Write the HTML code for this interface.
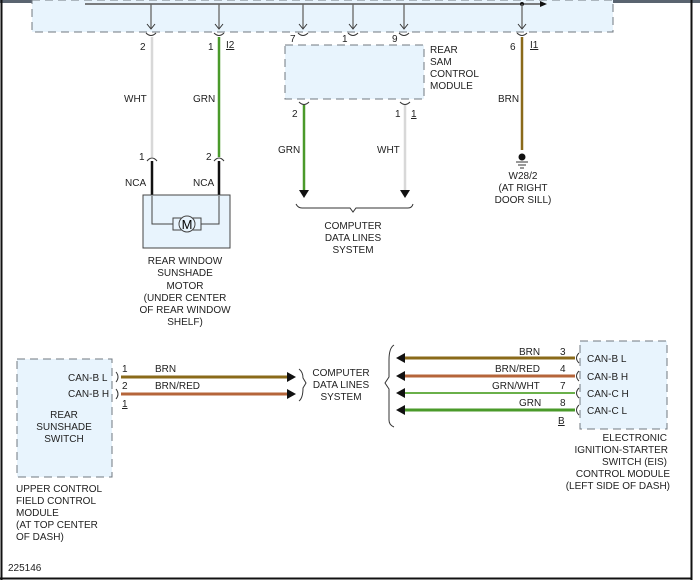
<!DOCTYPE html>
<html><head><style>
html,body{margin:0;padding:0;background:#fff;}
svg{display:block;font-family:"Liberation Sans",Arial,sans-serif;font-size:10px;}
</style></head><body>
<svg width="700" height="583" viewBox="0 0 700 583" xmlns="http://www.w3.org/2000/svg">
<rect x="0" y="0" width="700" height="583" fill="#fff"/>
<!-- frame -->
<rect x="0" y="0" width="700" height="3" fill="#5a6470"/>
<line x1="1.5" y1="0" x2="1.5" y2="580" stroke="#111" stroke-width="2"/>
<line x1="691.5" y1="0" x2="691.5" y2="580" stroke="#111" stroke-width="2"/>
<line x1="0" y1="578.5" x2="692" y2="578.5" stroke="#111" stroke-width="2"/>
<!-- top module -->
<rect x="32" y="0" width="581" height="32" fill="#e8f4fd" stroke="#707880" stroke-dasharray="8,5"/>
<line x1="85" y1="4" x2="545" y2="4" stroke="#555" stroke-width="1.5"/>
<polygon points="540,1 547,4 540,7" fill="#111"/>
<circle cx="522" cy="4" r="2" fill="#111"/>
<g stroke="#666" stroke-width="1.3" fill="none">
<line x1="151" y1="4" x2="151" y2="28"/><line x1="219" y1="4" x2="219" y2="28"/>
<line x1="303" y1="4" x2="303" y2="28"/><line x1="353" y1="4" x2="353" y2="28"/>
<line x1="404" y1="4" x2="404" y2="28"/><line x1="522" y1="4" x2="522" y2="28"/>
</g>
<g stroke="#333" stroke-width="1" fill="none">
<path d="M147,24 L151,29 L155,24"/><path d="M215,24 L219,29 L223,24"/><path d="M299,24 L303,29 L307,24"/>
<path d="M349,24 L353,29 L357,24"/><path d="M400,24 L404,29 L408,24"/><path d="M518,24 L522,29 L526,24"/>
<path d="M146,33 Q151,38 156,33"/><path d="M214,33 Q219,38 224,33"/><path d="M298,33 Q303,38 308,33"/>
<path d="M348,33 Q353,38 358,33"/><path d="M399,33 Q404,38 409,33"/><path d="M517,33 Q522,38 527,33"/>
</g>
<!-- left wires -->
<line x1="152" y1="37" x2="152" y2="157" stroke="#d8d8d8" stroke-width="2.5"/>
<line x1="219" y1="37" x2="219" y2="157" stroke="#4a9a2a" stroke-width="2.5"/>
<g stroke="#333" fill="none"><path d="M147,161 Q152,155 157,161"/><path d="M214,161 Q219,155 224,161"/></g>
<line x1="152" y1="161" x2="152" y2="196" stroke="#111" stroke-width="2.5"/>
<line x1="219" y1="161" x2="219" y2="196" stroke="#111" stroke-width="2.5"/>
<rect x="143" y="195" width="87" height="53" fill="#e8f4fd" stroke="#444"/>
<path d="M152,196 V224 H174 M197,224 H219 V196" stroke="#444" fill="none"/>
<rect x="173" y="218" width="28" height="12" fill="#e8f4fd" stroke="#444"/>
<circle cx="187" cy="224" r="8" fill="#e8f4fd" stroke="#444"/>
<text x="187" y="229" text-anchor="middle" font-size="13">M</text>
<!-- rear sam -->
<rect x="285" y="45" width="139" height="54" fill="#e8f4fd" stroke="#707880" stroke-dasharray="8,5"/>
<line x1="304" y1="105" x2="304" y2="190" stroke="#4a9a2a" stroke-width="2.5"/>
<line x1="405" y1="105" x2="405" y2="190" stroke="#d8d8d8" stroke-width="2.5"/>
<g stroke="#333" fill="none"><path d="M299,102 Q304,107 309,102"/><path d="M400,102 Q405,107 410,102"/></g>
<polygon points="299,190 309,190 304,198" fill="#111"/>
<polygon points="400,190 410,190 405,198" fill="#111"/>
<path d="M296,204 Q298,208 302,208 H350 L353,212 L356,208 H408 Q412,208 413,204" stroke="#333" fill="none"/>
<!-- brn ground -->
<line x1="522" y1="37" x2="522" y2="150" stroke="#8a6a1a" stroke-width="2.5"/>
<circle cx="522" cy="157" r="3.5" fill="#111"/>
<g stroke="#333"><line x1="516" y1="162" x2="528" y2="162"/><line x1="518" y1="165" x2="526" y2="165"/><line x1="520" y1="168" x2="524" y2="168"/></g>
<!-- labels top -->
<g fill="#222">
<text x="140" y="50">2</text><text x="208" y="50">1</text><text x="226" y="48" text-decoration="underline">I2</text>
<text x="290" y="42">7</text><text x="342" y="42">1</text><text x="392" y="42">9</text>
<text x="510" y="50">6</text><text x="530" y="48" text-decoration="underline">I1</text>
<text x="124" y="102">WHT</text><text x="193" y="102">GRN</text>
<text x="139" y="160">1</text><text x="206" y="160">2</text>
<text x="125" y="186">NCA</text><text x="193" y="186">NCA</text>
<text x="430" y="53">REAR</text><text x="430" y="65">SAM</text><text x="430" y="77">CONTROL</text><text x="430" y="89">MODULE</text>
<text x="292" y="117">2</text><text x="395" y="117">1</text><text x="411" y="117" text-decoration="underline">1</text>
<text x="278" y="153">GRN</text><text x="377" y="153">WHT</text>
<text x="498" y="102">BRN</text>
<g text-anchor="middle">
<text x="523" y="179">W28/2</text><text x="523" y="191">(AT RIGHT</text><text x="523" y="203">DOOR SILL)</text>
<text x="353" y="229">COMPUTER</text><text x="353" y="241">DATA LINES</text><text x="353" y="253">SYSTEM</text>
<text x="185" y="264">REAR WINDOW</text><text x="185" y="276">SUNSHADE</text><text x="185" y="289">MOTOR</text>
<text x="185" y="301">(UNDER CENTER</text><text x="185" y="313">OF REAR WINDOW</text><text x="185" y="325">SHELF)</text>
<text x="341" y="376">COMPUTER</text><text x="341" y="388">DATA LINES</text><text x="341" y="400">SYSTEM</text>
</g>
</g>
<!-- lower left -->
<rect x="17" y="359" width="95" height="118" fill="#e8f4fd" stroke="#707880" stroke-dasharray="8,5"/>
<line x1="121" y1="377" x2="288" y2="377" stroke="#8a6a1a" stroke-width="3"/>
<line x1="121" y1="394" x2="288" y2="394" stroke="#b5653a" stroke-width="3"/>
<polygon points="287,372 296,377 287,382" fill="#111"/>
<polygon points="287,389 296,394 287,399" fill="#111"/>
<g stroke="#333" fill="none">
<path d="M116,372 Q120,377 116,382"/><path d="M116,389 Q120,394 116,399"/>
<path d="M299,369 Q303,372 303,378 L306,383 L303,388 Q303,398 299,401"/>
<path d="M394,345 Q389,348 389,360 V377 L385,383 L389,389 V420 Q389,425 394,427"/>
</g>
<g fill="#222">
<text x="68" y="381">CAN-B L</text><text x="68" y="397">CAN-B H</text>
<text x="122" y="372">1</text><text x="122" y="389">2</text><text x="122" y="407" text-decoration="underline">1</text>
<text x="155" y="372">BRN</text><text x="155" y="389">BRN/RED</text>
<g text-anchor="middle"><text x="64" y="418">REAR</text><text x="64" y="430">SUNSHADE</text><text x="64" y="442">SWITCH</text></g>
<text x="16" y="492">UPPER CONTROL</text><text x="16" y="504">FIELD CONTROL</text><text x="16" y="516">MODULE</text><text x="16" y="528">(AT TOP CENTER</text><text x="16" y="540">OF DASH)</text>
<text x="8" y="571">225146</text>
</g>
<!-- lower right -->
<rect x="580" y="341" width="87" height="88" fill="#e8f4fd" stroke="#707880" stroke-dasharray="8,5"/>
<line x1="405" y1="358" x2="575" y2="358" stroke="#8a6a1a" stroke-width="3"/>
<line x1="405" y1="376" x2="575" y2="376" stroke="#b5653a" stroke-width="3"/>
<line x1="405" y1="393" x2="575" y2="393" stroke="#6ab04a" stroke-width="2"/>
<line x1="405" y1="410" x2="575" y2="410" stroke="#4a9a2a" stroke-width="3"/>
<g fill="#111">
<polygon points="405,353 396,358 405,363"/><polygon points="405,371 396,376 405,381"/>
<polygon points="405,388 396,393 405,398"/><polygon points="405,405 396,410 405,415"/>
</g>
<g stroke="#333" fill="none">
<path d="M579,353 Q574,358 579,363"/><path d="M579,371 Q574,376 579,381"/>
<path d="M579,388 Q574,393 579,398"/><path d="M579,405 Q574,410 579,415"/>
</g>
<g fill="#222">
<text x="519" y="355">BRN</text><text x="495" y="372">BRN/RED</text><text x="492" y="389">GRN/WHT</text><text x="519" y="406">GRN</text>
<text x="560" y="355">3</text><text x="560" y="372">4</text><text x="560" y="389">7</text><text x="560" y="406">8</text>
<text x="558" y="424" text-decoration="underline">B</text>
<text x="587" y="362">CAN-B L</text><text x="587" y="380">CAN-B H</text><text x="587" y="397">CAN-C H</text><text x="587" y="414">CAN-C L</text>
<g text-anchor="end"><text x="667" y="441">ELECTRONIC</text><text x="668" y="453">IGNITION-STARTER</text><text x="667" y="465">SWITCH (EIS)</text><text x="670" y="477">CONTROL MODULE</text><text x="670" y="489">(LEFT SIDE OF DASH)</text></g>
</g>
</svg>
</body></html>
